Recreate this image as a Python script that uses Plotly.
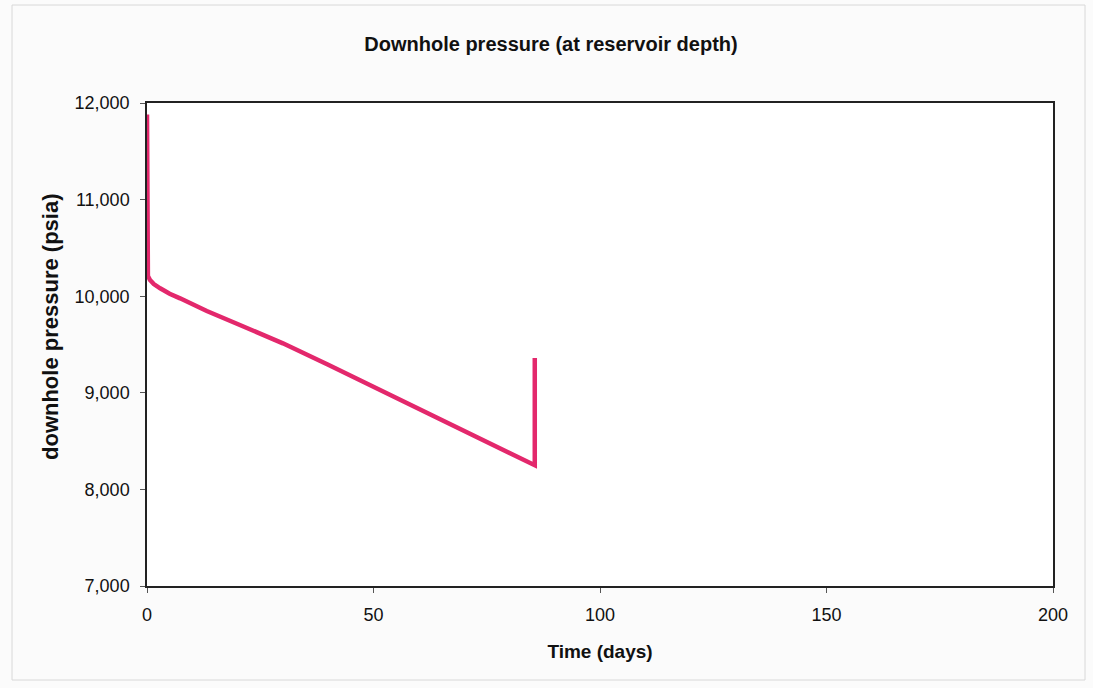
import plotly.graph_objects as go

# Data
time_days = [0, 0.02, 0.05, 0.1, 0.2, 0.66, 1.5, 2.9, 5, 7.3, 10, 13.2, 20.5, 30, 40, 50, 60, 70, 80, 85.6, 85.6]
pressure_psia = [11880, 11000, 10500, 10300, 10210, 10168, 10125, 10082, 10025, 9978, 9915, 9847, 9702,
                 9512, 9290, 9060, 8830, 8600, 8375, 8250, 9360]

x_ticks = [0, 50, 100, 150, 200]
y_ticks = [7000, 8000, 9000, 10000, 11000, 12000]

fig = go.Figure()
fig.add_trace(go.Scatter(
    x=time_days, y=pressure_psia, mode="lines",
    line=dict(color="#E3286C", width=4.5),
    showlegend=False, hoverinfo="x+y"
))

font_family = "Liberation Sans, Arial, sans-serif"

fig.update_layout(
    width=1093, height=688,
    paper_bgcolor="#fbfbfb", plot_bgcolor="#ffffff",
    margin=dict(l=147, r=40, t=103, b=102),
    title=dict(text="<b>Downhole pressure (at reservoir depth)</b>",
               x=551/1093, xanchor="center", y=1 - 44/688, yanchor="middle",
               font=dict(family=font_family, size=20, color="#111111")),
    font=dict(family=font_family, color="#111111"),
    xaxis=dict(
        range=[0, 200], tickvals=x_ticks, ticktext=[str(v) for v in x_ticks],
        showgrid=False, zeroline=False,
        showline=True, linecolor="#222222", linewidth=1.5, mirror=True,
        ticks="outside", ticklen=5, tickcolor="#555555", ticklabelstandoff=7,
        tickfont=dict(size=18, family=font_family),
        title=dict(text="<b>Time (days)</b>", font=dict(size=19, family=font_family), standoff=20),
    ),
    yaxis=dict(
        range=[7000, 12000], tickvals=y_ticks, ticktext=[f"{v:,}" for v in y_ticks],
        showgrid=False, zeroline=False,
        showline=True, linecolor="#222222", linewidth=1.5, mirror=True,
        ticks="outside", ticklen=5, tickcolor="#555555", ticklabelstandoff=7,
        tickfont=dict(size=18, family=font_family),
    ),
    annotations=[dict(text="<b>downhole pressure (psia)</b>", textangle=-90,
                      xref="paper", yref="paper", x=(50 - 147) / 906, y=(586 - 327) / 483,
                      xanchor="center", yanchor="middle", showarrow=False,
                      font=dict(size=22, family=font_family, color="#111111"))],
    shapes=[dict(type="rect", xref="paper", yref="paper",
                 x0=-135/906, x1=1 + 32/906, y0=-94/483, y1=1 + 98/483,
                 line=dict(color="#d8d8d8", width=1), fillcolor="rgba(0,0,0,0)", layer="below")],
)

fig.write_html("out.html", config={"displayModeBar": False},
               post_script="document.body.style.margin='0px';document.body.style.overflow='hidden';")
